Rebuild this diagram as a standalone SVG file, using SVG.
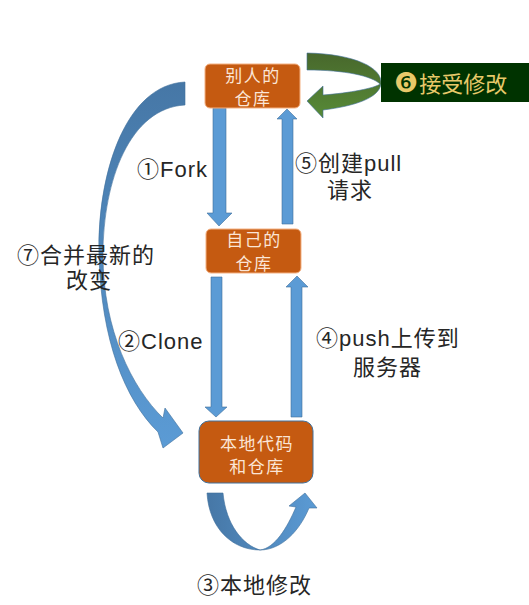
<svg xmlns="http://www.w3.org/2000/svg" width="529" height="605" viewBox="0 0 529 605">
<defs>
<linearGradient id="gBlueV" x1="0" y1="0" x2="0" y2="1"><stop offset="0" stop-color="#4677A6"/><stop offset="1" stop-color="#5B9BD5"/></linearGradient>
<linearGradient id="gBlueH" x1="0" y1="0" x2="1" y2="0"><stop offset="0" stop-color="#4677A6"/><stop offset="1" stop-color="#5B9BD5"/></linearGradient>
<linearGradient id="gGreen" x1="0" y1="0" x2="0" y2="1"><stop offset="0" stop-color="#48682C"/><stop offset="1" stop-color="#578A37"/></linearGradient>
</defs>
<style>
.node{fill:#C55A11;stroke:#F4B183;stroke-width:1}
.node3{fill:#C55A11;stroke:#41719C;stroke-width:1}
.nt{font-family:"Noto Sans CJK SC","Liberation Sans",sans-serif;font-size:17px;fill:#FBE5D6;text-anchor:middle;letter-spacing:1.5px}
.arr{fill:#5B9BD5;stroke:#41719C;stroke-width:0.6}
.lbl{font-family:"Liberation Sans","Noto Sans CJK SC",sans-serif;font-size:22px;fill:#262626;letter-spacing:1px}
</style>
<rect width="529" height="605" fill="#FFFFFF"/>
<g id="connectors">
<path class="arr" d="M213,108 L226,108 L226,213 L232,213 L219,226 L207,213 L213,213 Z"/>
<path class="arr" d="M282,224 L293,224 L293,119 L297,119 L287,109 L277,119 L282,119 Z"/>
<path class="arr" d="M211,277 L222,277 L222,407 L227,407 L216,417 L205,407 L211,407 Z"/>
<path class="arr" d="M291,417 L302,417 L302,287 L308,287 L297,276 L286,287 L291,287 Z"/>
<path d="M185,82 C125,85 97,175 99,255 C101,340 125,400 158,432 L163,448 L183,433 L165,408 L163,418 C132,388 103,330 103,255 C103,180 130,108 185,105 Z" fill="url(#gBlueV)" stroke="#41719C" stroke-width="0.6"/>
<path d="M207,493 C209,528 232,550 260,550 C282,550 300,530 309,508 L317,508 L305,493 L289,506 L296,507 C287,528 275,548 260,550 C243,545 226,525 223,493 Z" fill="url(#gBlueH)" stroke="#41719C" stroke-width="0.6"/>
<path d="M307,53 C355,54 383,68 381,84 C379,98 355,106 323,110 L323,118 L307,101 L323,86 L323,95 C350,93 375,88 380,84 C372,76 345,70 307,70 Z" fill="url(#gGreen)" stroke="#41719C" stroke-width="0.6"/>
</g>
<g id="node-others">
<rect class="node" x="205" y="64" width="95" height="44" rx="5"/>
<text class="nt" x="253" y="82">别人的</text>
<text class="nt" x="253" y="105">仓库</text>
</g>
<g id="node-mine">
<rect class="node" x="206" y="229" width="95" height="44" rx="5"/>
<text class="nt" x="254" y="246">自己的</text>
<text class="nt" x="254" y="270">仓库</text>
</g>
<g id="node-local">
<rect class="node3" x="199" y="421" width="114" height="62" rx="10"/>
<text class="nt" x="257" y="450">本地代码</text>
<text class="nt" x="257" y="473">和仓库</text>
</g>
<g id="node-accept">
<rect x="381" y="63" width="148" height="39" fill="#003300"/>
<text x="394" y="92" font-family="'DejaVu Sans',sans-serif" font-size="27" fill="#E8C96A">❻<tspan font-family="'Noto Sans CJK SC',sans-serif" font-size="22" dx="1">接受修改</tspan></text>
</g>
<g id="labels">
<text class="lbl" x="137" y="177">①Fork</text>
<text class="lbl" x="118" y="349">②Clone</text>
<text class="lbl" x="17" y="263">⑦合并最新的</text>
<text class="lbl" x="66" y="288">改变</text>
<text class="lbl" x="295" y="171">⑤创建pull</text>
<text class="lbl" x="327" y="198">请求</text>
<text class="lbl" x="316" y="346">④push上传到</text>
<text class="lbl" x="353" y="375">服务器</text>
<text class="lbl" x="197" y="593">③本地修改</text>
</g>
</svg>
